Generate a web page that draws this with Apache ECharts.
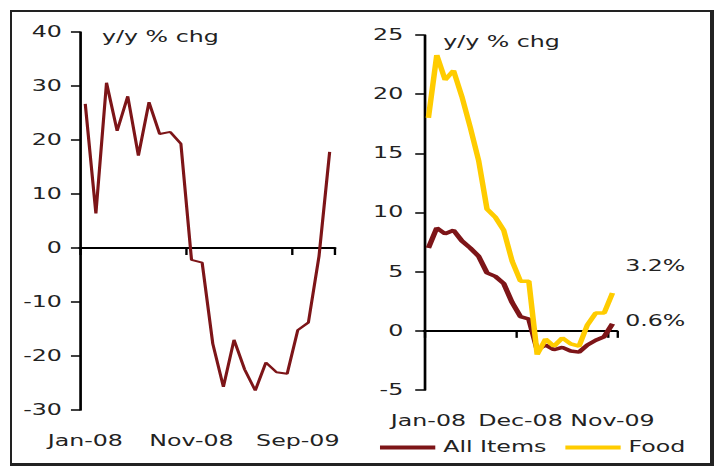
<!DOCTYPE html>
<html>
<head>
<meta charset="utf-8">
<script src="https://cdn.jsdelivr.net/npm/echarts@6/dist/echarts.min.js"></script>
<style>
    html, body { margin: 0; padding: 0; background: #fff; }
    body { width: 715px; height: 468px; position: relative; overflow: hidden; }
    /* the original picture is stretched sideways, so the chart is drawn narrow and scaled */
    .chart { position: absolute; left: 0; top: 0; width: 452.5px; height: 468px; transform: scaleX(1.58); transform-origin: 0 0; }
    .frame { position: absolute; left: 10px; top: 10px; width: 698px; height: 451px; border: 2px solid #222; border-right-width: 4px; border-bottom-width: 3px; pointer-events: none; }
</style>
</head>
<body>
<div class="frame"></div>
<div class="chart"></div>
<script>
// 左图：月份（Jan-08 ~ Dec-09）
const leftMonths = ['Jan-08', 'Feb-08', 'Mar-08', 'Apr-08', 'May-08', 'Jun-08', 'Jul-08', 'Aug-08',
    'Sep-08', 'Oct-08', 'Nov-08', 'Dec-08', 'Jan-09', 'Feb-09', 'Mar-09', 'Apr-09', 'May-09',
    'Jun-09', 'Jul-09', 'Aug-09', 'Sep-09', 'Oct-09', 'Nov-09', 'Dec-09'];
const leftValues = [26.7, 6.4, 30.6, 21.7, 28.1, 17.1, 27.0, 21.1, 21.5, 19.3, -2.2, -2.7,
    -17.7, -25.7, -17.0, -22.5, -26.4, -21.2, -23.0, -23.3, -15.2, -13.8, -1.5, 17.8];

// 右图：月份（Jan-08 ~ Nov-09）
const rightMonths = ['Jan-08', 'Feb-08', 'Mar-08', 'Apr-08', 'May-08', 'Jun-08', 'Jul-08', 'Aug-08',
    'Sep-08', 'Oct-08', 'Nov-08', 'Dec-08', 'Jan-09', 'Feb-09', 'Mar-09', 'Apr-09', 'May-09',
    'Jun-09', 'Jul-09', 'Aug-09', 'Sep-09', 'Oct-09', 'Nov-09'];
const allItems = [7.0, 8.7, 8.2, 8.5, 7.6, 7.0, 6.3, 4.9, 4.6, 4.0, 2.4, 1.2,
    1.0, -1.6, -1.2, -1.6, -1.4, -1.7, -1.8, -1.2, -0.8, -0.5, 0.6];
const food = [18.0, 23.3, 21.2, 22.0, 19.8, 17.2, 14.4, 10.3, 9.6, 8.5, 5.9, 4.2,
    4.2, -2.0, -0.7, -1.3, -0.6, -1.1, -1.3, 0.5, 1.5, 1.5, 3.2];

const leftTicks = [-30, 40, 10];   // min, max, interval
const rightTicks = [-5, 25, 5];
const seriesNames = ['All Items', 'Food'];
const unitName = 'y/y % chg';

const FONT = 'DejaVu Sans';
const txt = { color: '#222', fontSize: 15, fontFamily: FONT };

(function () {
    let myChart = echarts.init(document.querySelector('.chart'), null, { renderer: 'svg' })

    // x 轴：一条在 0 处画线和刻度，另一条在底部只放标签
    function xAxes(gridIndex, data, every, labelMargin) {
        return [{
            type: 'category',
            gridIndex: gridIndex,
            position: 'bottom',
            data: data,
            axisLine: { show: true, onZero: true, lineStyle: { color: '#000', width: 2 } },
            axisTick: { show: true, interval: every - 1, length: 7, lineStyle: { color: '#000', width: 1.5 } },
            axisLabel: { show: false },
            splitLine: { show: false }
        }, {
            type: 'category',
            gridIndex: gridIndex,
            position: 'bottom',
            data: data,
            axisLine: { show: false, onZero: false },
            axisTick: { show: false },
            axisLabel: Object.assign({ interval: every - 1, margin: labelMargin }, txt),
            splitLine: { show: false }
        }]
    }

    function yAxis(gridIndex, ticks, labelMargin, namePad, nameGap) {
        return {
            type: 'value',
            gridIndex: gridIndex,
            min: ticks[0],
            max: ticks[1],
            interval: ticks[2],
            name: unitName,
            nameLocation: 'end',
            nameGap: nameGap,
            nameTextStyle: Object.assign({ align: 'left', verticalAlign: 'middle', padding: [0, 0, 0, namePad] }, txt),
            axisLine: { show: true, lineStyle: { color: '#000', width: 1.7 } },
            axisTick: { show: true, length: 5.7, lineStyle: { color: '#000', width: 1.5 } },
            axisLabel: Object.assign({ margin: labelMargin }, txt),
            splitLine: { show: false }
        }
    }

    let option = {
        animation: false,
        textStyle: { fontFamily: FONT },
        grid: [
            { left: 50.6, top: 32, width: 161.4, height: 378 },
            { left: 268.5, top: 35, width: 121.8, height: 355 }
        ],
        xAxis: xAxes(0, leftMonths, 10, 24).concat(xAxes(1, rightMonths, 11, 24)),
        yAxis: [
            yAxis(0, leftTicks, 11.4, 14, -5),
            yAxis(1, rightTicks, 13.3, 12, -7)
        ],
        legend: {
            left: 235.5,
            top: 435,
            itemWidth: 35,
            itemHeight: 4,
            itemGap: 12,
            icon: 'rect',
            data: seriesNames,
            textStyle: txt
        },
        series: [{
            name: 'left',
            type: 'line',
            xAxisIndex: 0,
            yAxisIndex: 0,
            data: leftValues,
            symbol: 'none',
            color: '#7d1518',
            lineStyle: { width: 2 }
        }, {
            name: seriesNames[0],
            type: 'line',
            xAxisIndex: 2,
            yAxisIndex: 1,
            data: allItems,
            symbol: 'none',
            color: '#7d1518',
            lineStyle: { width: 3.5 },
            endLabel: Object.assign({ show: true, distance: 8, offset: [0, -3],
                formatter: p => p.value.toFixed(1) + '%' }, txt)
        }, {
            name: seriesNames[1],
            type: 'line',
            xAxisIndex: 2,
            yAxisIndex: 1,
            data: food,
            symbol: 'none',
            color: '#ffcc00',
            lineStyle: { width: 3.5 },
            endLabel: Object.assign({ show: true, distance: 8, offset: [0, -27],
                formatter: p => p.value.toFixed(1) + '%' }, txt)
        }]
    };
    myChart.setOption(option)
    window.addEventListener("resize", function () {
        myChart.resize();
    })
})();
</script>
</body>
</html>
